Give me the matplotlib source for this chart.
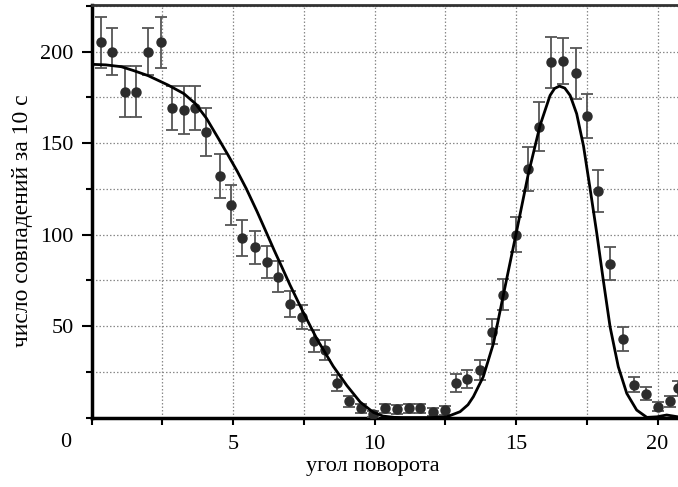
import matplotlib
matplotlib.use("Agg")
import matplotlib.pyplot as plt
from matplotlib.ticker import MultipleLocator

# ---------------- DATA ----------------
angle = [0.32, 0.72, 1.17, 1.58, 2.01, 2.44, 2.84, 3.26, 3.66, 4.06,
         4.54, 4.93, 5.33, 5.78, 6.19, 6.60, 7.01, 7.45, 7.86, 8.26,
         8.69, 9.11, 9.51, 9.96, 10.37, 10.78, 11.20, 11.60, 12.06, 12.49,
         12.88, 13.28, 13.73, 14.14, 14.55, 14.99, 15.41, 15.82, 16.22, 16.67,
         17.11, 17.50, 17.91, 18.32, 18.76, 19.18, 19.59, 20.00, 20.44, 20.73]
counts = [205, 200, 178, 178, 200, 205, 169, 168, 169, 156,
          132, 116, 98, 93, 85, 77, 62, 55, 42, 37,
          19, 9, 5, 2, 5, 4.5, 5, 5, 3, 4,
          19, 21, 26, 47, 67, 100, 136, 159, 194, 195,
          188, 165, 124, 84, 43, 18, 13, 6, 9, 16]
errors = [14, 13, 14, 14, 13, 14, 12, 13, 12, 13,
          12, 11, 10, 9, 9, 8.5, 7, 6.5, 6, 5.5,
          4.5, 3, 2.5, 1.5, 2.5, 2.5, 2.5, 2.5, 2, 2.5,
          5, 5, 5.5, 7, 8.5, 9.5, 12, 13.5, 14, 12.5,
          14, 12, 11.5, 9, 6.5, 4, 3.5, 2.5, 3, 4]

# theory curve, points
curve_x = [0.0, 0.5, 1.05, 1.5, 2.0, 2.7, 3.26, 3.67, 4.06, 4.5,
           4.82, 5.15, 5.47, 5.85, 6.18, 6.45, 6.72, 7.01, 7.48, 7.96,
           8.54, 9.02, 9.49, 9.96, 10.3, 10.7, 11.0, 12.0, 12.55, 13.02,
           13.3, 13.49, 13.84, 14.2, 14.55, 14.99, 15.43, 15.85, 16.2, 16.36,
           16.53, 16.72, 16.91, 17.14, 17.38, 17.61, 17.85, 18.08, 18.32, 18.61,
           18.91, 19.26, 19.62, 19.97, 20.32, 20.72]
curve_y = [193, 192.7, 191.7, 189.5, 186.8, 181.7, 177, 171.5, 163.5, 152,
           143.5, 134.5, 125, 112.5, 101, 91.5, 82.4, 72.5, 57.5, 43,
           28, 17.5, 8.5, 2.8, 0.8, 0.1, 0, 0, 0.4, 3.2,
           7, 11.4, 22.3, 40.5, 67, 99.7, 133, 159.8, 176, 179.8,
           181.1, 180, 176, 166, 148.5, 125.5, 100.7, 75.1, 49.6, 27.8,
           13.2, 4.1, 0.1, 0.4, 1.4, 0.4]

plt.rcParams['font.family'] = ['Liberation Serif', 'DejaVu Serif']

fig = plt.figure(figsize=(6.78, 4.87), dpi=100)
ax = fig.add_axes([0.135, 0.1407, 0.865, 0.849])

# grid first so that the marks sit on top
ax.xaxis.set_major_locator(MultipleLocator(5))
ax.xaxis.set_minor_locator(MultipleLocator(2.5))
ax.yaxis.set_major_locator(MultipleLocator(50))
ax.yaxis.set_minor_locator(MultipleLocator(25))
ax.grid(which='both', color='#8a8a8a', linestyle=(0, (1.2, 1.6)), linewidth=0.9)
ax.set_axisbelow(True)

ax.errorbar(angle, counts, yerr=errors, fmt='o', color='#2c2c2c', ecolor='#555555',
            elinewidth=1.3, capsize=4, capthick=1.3, markersize=6.5, zorder=3)
ax.plot(curve_x, curve_y, color='black', linewidth=2.0, zorder=4)

ax.set_xlim(0, 20.72)
ax.set_ylim(-0.5, 225.4)

ax.set_xticks([5, 10, 15, 20])
ax.set_yticks([50, 100, 150, 200])
ax.tick_params(which='both', direction='out', width=1.5, labelsize=16, colors='black')
ax.tick_params(which='major', length=7)
ax.tick_params(which='minor', length=4)
ax.tick_params(axis='x', which='both', length=5, pad=7)
ax.tick_params(axis='y', pad=6)

ax.spines['left'].set_linewidth(2.5)
ax.spines['bottom'].set_linewidth(2.5)
ax.spines['top'].set_linewidth(2.0)
ax.spines['top'].set_color('#333333')
ax.spines['right'].set_visible(False)

# origin label sits in the corner
ax.annotate('0', xy=(0, 0), xycoords='data', xytext=(-18.5, -18),
            textcoords='offset points', ha='center', va='center', fontsize=16)

ax.set_xlabel('угол поворота', fontsize=16, labelpad=2)
ax.xaxis.label.set_x(0.48)
ax.set_ylabel('число совпадений за 10 с', fontsize=17)
ax.yaxis.set_label_coords(-0.1185, 0.478)
ax.yaxis.label.set_va('center')

fig.savefig('out.png', dpi=100)
